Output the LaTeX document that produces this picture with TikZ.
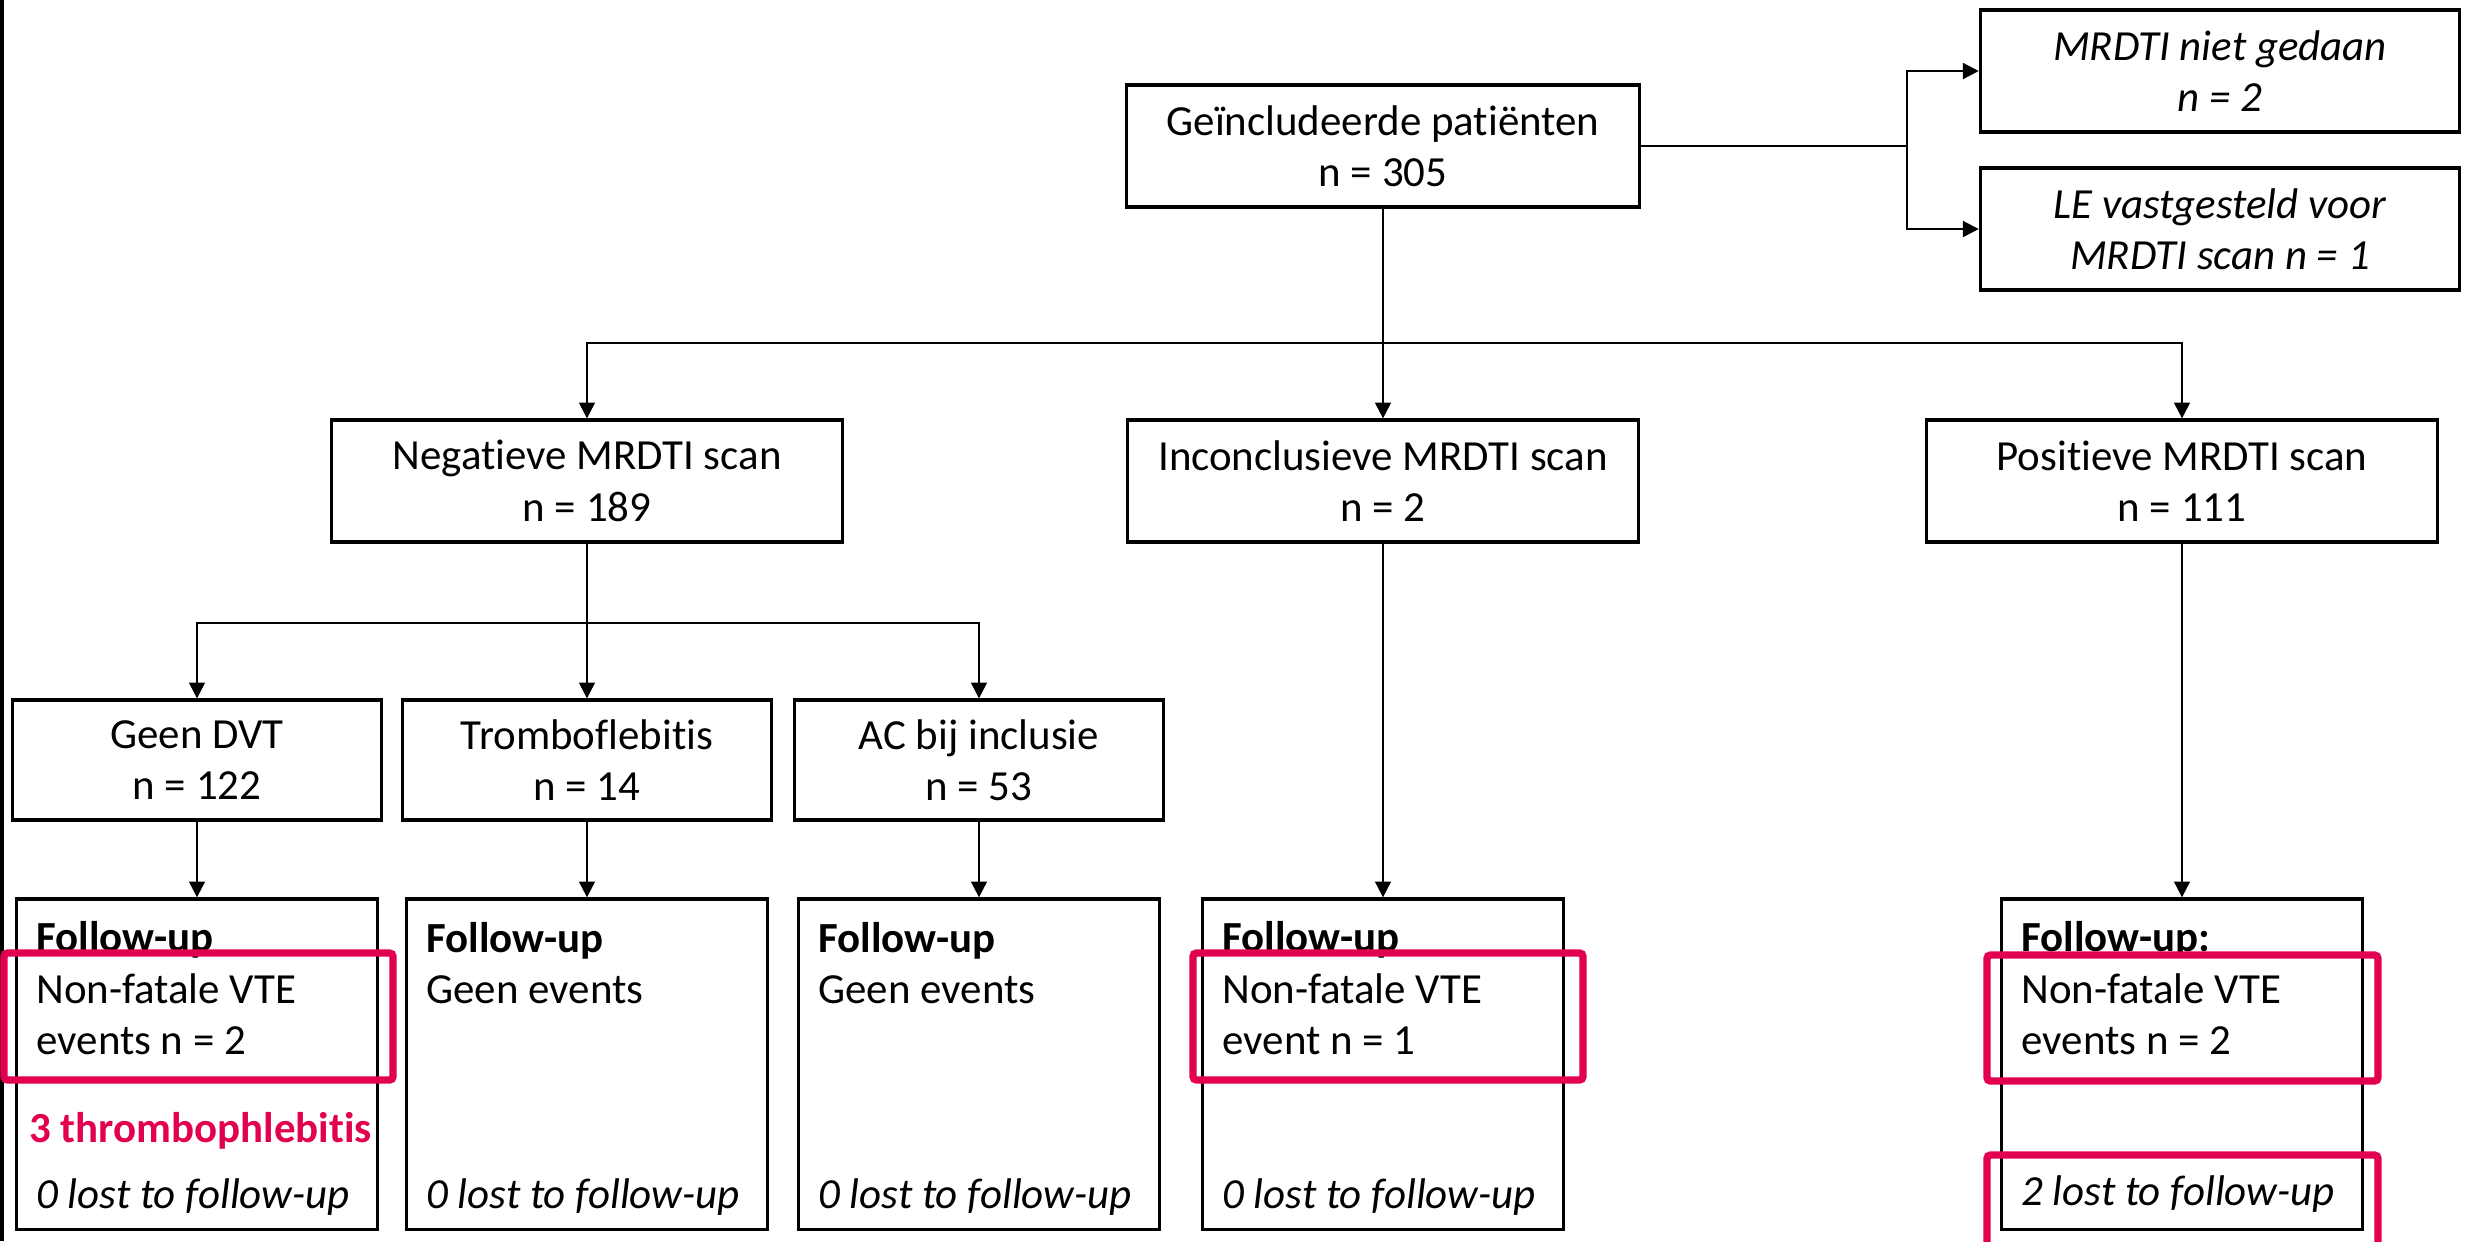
\documentclass[tikz,border=0pt]{standalone}
\usepackage{fontspec}
\setmainfont{Carlito}[Ligatures=NoCommon]
\usepackage{xcolor}
\usetikzlibrary{arrows.meta,positioning}
\definecolor{hilite}{RGB}{226,0,80}

\begin{document}
\begin{tikzpicture}[x=0.01cm,y=-0.01cm,
  every node/.style={font=\fontsize{12.2}{14.6}\selectfont,align=center},
  ital/.style={font=\fontsize{12.2}{14.6}\selectfont\itshape},
  box/.style={draw,line width=0.9pt,minimum height=1.22cm,inner sep=0pt},
  fubox/.style={draw,line width=0.9pt,minimum height=3.3cm,minimum width=3.61cm,inner sep=0pt},
  lbl/.style={anchor=west,align=left,inner sep=0pt},
  arr/.style={-{Triangle[length=4.5pt,width=4.5pt]},line width=0.6pt},
  hl/.style={draw=hilite,line width=2.1pt,rounded corners=1pt}]
\useasboundingbox (0,0) rectangle (2468,1241);
\draw[line width=0.9pt] (2,0) -- (2,1241);
% top
\node[box,minimum width=5.12cm] (inc) at (1383,146) {Geïncludeerde patiënten\\n = 305};
\node[box,ital,minimum width=4.79cm] (nd) at (2220,71) {MRDTI niet gedaan\\n = 2};
\node[box,ital,minimum width=4.79cm] (le) at (2220,229) {LE vastgesteld voor\\MRDTI scan n = 1};
% scan results
\node[box,minimum width=5.1cm] (neg) at (587,481) {Negatieve MRDTI scan\\n = 189};
\node[box,minimum width=5.1cm] (incn) at (1383,481) {Inconclusieve MRDTI scan\\n = 2};
\node[box,minimum width=5.1cm] (pos) at (2182,481) {Positieve MRDTI scan\\n = 111};
% negative split
\node[box,minimum width=3.68cm,minimum height=1.2cm] (gd) at (197,760) {Geen DVT\\n = 122};
\node[box,minimum width=3.68cm,minimum height=1.2cm] (tr) at (587,760) {Tromboflebitis\\n = 14};
\node[box,minimum width=3.68cm,minimum height=1.2cm] (ac) at (979,760) {AC bij inclusie\\n = 53};
% follow-up
\node[fubox] (fu1) at (197,1064) {};
\node[fubox] (fu2) at (587,1064) {};
\node[fubox] (fu3) at (979,1064) {};
\node[fubox] (fu4) at (1383,1064) {};
\node[fubox] (fu5) at (2182,1064) {};
\node[lbl] (fu1t) at ([xshift=0.21cm,yshift=-0.91cm]fu1.north west) {\textbf{Follow-up}\\Non-fatale VTE\\events n = 2};
\node[lbl] (fu2t) at ([xshift=0.21cm,yshift=-0.66cm]fu2.north west) {\textbf{Follow-up}\\Geen events};
\node[lbl] (fu3t) at ([xshift=0.21cm,yshift=-0.66cm]fu3.north west) {\textbf{Follow-up}\\Geen events};
\node[lbl] (fu4t) at ([xshift=0.21cm,yshift=-0.91cm]fu4.north west) {\textbf{Follow-up}\\Non-fatale VTE\\event n = 1};
\node[lbl] (fu5t) at ([xshift=0.21cm,yshift=-0.91cm]fu5.north west) {\textbf{Follow-up:}\\Non-fatale VTE\\events n = 2};
\node[lbl,text=hilite,font=\fontsize{12.2}{14.6}\selectfont\bfseries] (fu1x) at ([xshift=0.14cm,yshift=1.0cm]fu1.south west) {3 thrombophlebitis};
\node[lbl,ital] (fu1l) at ([xshift=0.21cm,yshift=0.34cm]fu1.south west) {0 lost to follow-up};
\node[lbl,ital] (fu2l) at ([xshift=0.21cm,yshift=0.34cm]fu2.south west) {0 lost to follow-up};
\node[lbl,ital] (fu3l) at ([xshift=0.21cm,yshift=0.34cm]fu3.south west) {0 lost to follow-up};
\node[lbl,ital] (fu4l) at ([xshift=0.21cm,yshift=0.34cm]fu4.south west) {0 lost to follow-up};
\node[lbl,ital] (fu5l) at ([xshift=0.21cm,yshift=0.37cm]fu5.south west) {2 lost to follow-up};
% connectors
\coordinate (sp) at (1907,146);
\draw[line width=0.6pt] (inc.east) -- (sp);
\draw[arr] (sp) |- (nd.west);
\draw[arr] (sp) |- (le.west);
\coordinate (j1) at (1383,343);
\draw[arr] (inc.south) -- (incn.north);
\draw[arr] (j1) -| (neg.north);
\draw[arr] (j1) -| (pos.north);
\coordinate (j2) at (587,623);
\draw[arr] (neg.south) -- (tr.north);
\draw[arr] (j2) -| (gd.north);
\draw[arr] (j2) -| (ac.north);
\draw[arr] (gd.south) -- (fu1.north);
\draw[arr] (tr.south) -- (fu2.north);
\draw[arr] (ac.south) -- (fu3.north);
\draw[arr] (incn.south) -- (fu4.north);
\draw[arr] (pos.south) -- (fu5.north);
% highlights
\draw[hl] (4,953) rectangle (393,1080);
\draw[hl] (1193,953) rectangle (1583,1080);
\draw[hl] (1987,955) rectangle (2378,1081);
\draw[hl] (1987,1155) rectangle (2378,1252);
\end{tikzpicture}
\end{document}
